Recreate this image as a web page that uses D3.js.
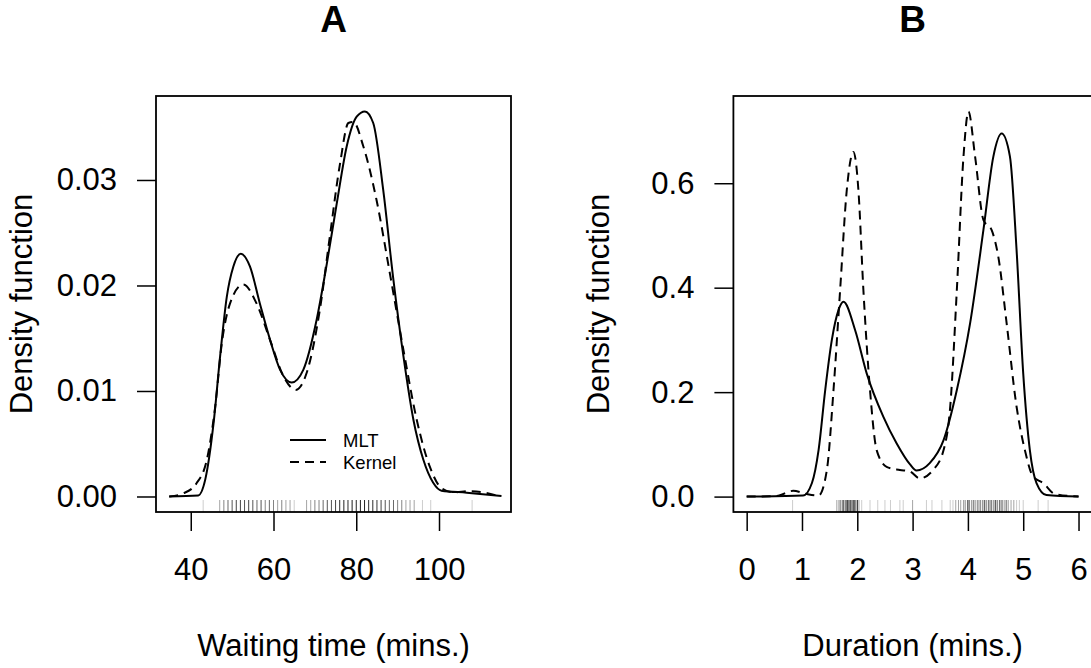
<!DOCTYPE html>
<html>
<head>
<meta charset="utf-8">
<script src="https://cdn.jsdelivr.net/npm/d3@7"></script>
<style>
  body { margin: 0; background: #fff; }
  svg text { font-family: "Liberation Sans", Arial, Helvetica, sans-serif; fill: #000; }
  .axis text { font-size: 31px; }
  .axis line { stroke: #000; stroke-width: 1.5px; }
  .label { font-size: 31px; }
  .title { font-size: 37px; font-weight: bold; }
  .legend text { font-size: 18.5px; }
</style>
</head>
<body>
<div id="chart"></div>
<script>
// Panel A: waiting time
var mltWaitX = [34.8, 41.8, 43.5, 45.5, 47.1, 48.7, 50.3, 52.1, 54.3, 56.7, 59.2, 61.6, 64.4, 67.2, 70.4, 72.9, 75.3, 77.7, 80.1, 82.1, 84.1, 86.5, 88.9, 91.4, 93.8, 96.2, 98.6, 100.6, 106.7, 115.1];
var mltWaitY = [0, 0.0001, 0.0016, 0.0069, 0.0133, 0.0189, 0.0218, 0.0230, 0.0218, 0.0183, 0.0148, 0.0120, 0.0108, 0.0120, 0.0167, 0.0221, 0.0278, 0.0332, 0.0360, 0.0365, 0.0354, 0.0291, 0.0208, 0.0133, 0.0073, 0.0035, 0.0013, 0.00055, 0.00036, 0.00005];
var kerWaitX = [34.8, 38.2, 41.4, 43.9, 45.9, 47.5, 49.5, 52.7, 55.9, 59.2, 62.4, 65.4, 68.0, 71.2, 73.6, 76.1, 78.1, 79.3, 81.7, 84.9, 88.1, 91.4, 94.6, 97.8, 100.6, 103.5, 107.4, 110.7, 114.7];
var kerWaitY = [0, 0.0003, 0.00125, 0.0035, 0.0085, 0.0145, 0.0183, 0.0201, 0.0183, 0.0148, 0.0114, 0.0101, 0.0117, 0.0177, 0.0246, 0.0316, 0.0354, 0.0355, 0.0332, 0.0281, 0.0212, 0.0139, 0.0073, 0.0028, 0.0008, 0.0004, 0.0005, 0.0004, 0];
var waitRugVals = [43, 47, 48, 49, 50, 51, 52, 53, 54, 55, 56, 57, 58, 59, 60, 61, 62, 63, 64, 65, 68, 69, 70, 71, 72, 73, 74, 75, 76, 77, 78, 79, 80, 81, 82, 83, 84, 85, 86, 87, 88, 89, 90, 91, 92, 93, 94, 96, 98, 108];
var waitRugCounts = [1, 2, 3, 4, 5, 6, 6, 5, 6, 5, 4, 5, 3, 4, 3, 2, 3, 2, 2, 1, 2, 2, 3, 3, 4, 5, 5, 6, 8, 9, 8, 10, 9, 10, 9, 8, 8, 7, 6, 5, 4, 4, 3, 3, 2, 2, 2, 1, 1, 1];
var waitTicksX = [40, 60, 80, 100];
var waitTicksY = [0, 0.01, 0.02, 0.03];

// Panel B: duration
var mltDurX = [0, 1.02, 1.18, 1.30, 1.42, 1.54, 1.66, 1.75, 1.96, 2.17, 2.47, 2.71, 2.95, 3.07, 3.31, 3.56, 3.80, 4.04, 4.28, 4.46, 4.61, 4.76, 4.88, 5.00, 5.12, 5.24, 5.42, 6];
var mltDurY = [0, 0.002, 0.026, 0.089, 0.204, 0.300, 0.357, 0.373, 0.319, 0.236, 0.153, 0.102, 0.062, 0.050, 0.064, 0.108, 0.204, 0.332, 0.510, 0.651, 0.695, 0.651, 0.472, 0.236, 0.089, 0.026, 0.003, 0];
var kerDurX = [0, 0.54, 0.84, 1.08, 1.30, 1.45, 1.57, 1.69, 1.81, 1.93, 2.02, 2.11, 2.23, 2.35, 2.53, 2.77, 2.95, 3.13, 3.37, 3.56, 3.68, 3.80, 3.92, 4.01, 4.13, 4.28, 4.43, 4.55, 4.70, 4.88, 5.03, 5.18, 5.36, 5.57, 6];
var kerDurY = [0, 0.001, 0.011, 0.005, 0.002, 0.051, 0.204, 0.396, 0.587, 0.660, 0.587, 0.396, 0.204, 0.089, 0.057, 0.051, 0.048, 0.035, 0.051, 0.089, 0.172, 0.396, 0.651, 0.737, 0.651, 0.530, 0.510, 0.459, 0.332, 0.172, 0.089, 0.038, 0.026, 0.005, 0];
var durRugVals = [0.83, 1.63, 1.67, 1.70, 1.73, 1.75, 1.78, 1.80, 1.82, 1.83, 1.85, 1.87, 1.88, 1.90, 1.92, 1.93, 1.95, 1.97, 2.00, 2.03, 2.08, 2.23, 2.37, 2.50, 2.60, 2.77, 2.83, 3.00, 3.25, 3.35, 3.53, 3.68, 3.73, 3.78, 3.83, 3.87, 3.92, 3.95, 4.00, 4.03, 4.07, 4.10, 4.13, 4.17, 4.20, 4.23, 4.27, 4.30, 4.33, 4.37, 4.40, 4.43, 4.47, 4.50, 4.53, 4.57, 4.60, 4.63, 4.67, 4.70, 4.73, 4.78, 4.83, 4.88, 4.93, 5.00, 5.27, 5.45];
var durRugCounts = [1, 2, 3, 3, 3, 4, 4, 4, 4, 5, 4, 4, 3, 3, 3, 4, 4, 3, 12, 2, 1, 1, 1, 1, 1, 1, 1, 2, 1, 1, 1, 1, 1, 2, 2, 2, 2, 3, 14, 3, 3, 3, 3, 3, 3, 3, 4, 4, 4, 4, 4, 4, 4, 5, 4, 4, 4, 3, 3, 3, 2, 2, 2, 1, 1, 1, 1, 1];
var durTicksX = [0, 1, 2, 3, 4, 5, 6];
var durTicksY = [0, 0.2, 0.4, 0.6];

var legendLabels = ["MLT", "Kernel"];

var svg = d3.select("#chart").append("svg")
    .attr("width", 1091)
    .attr("height", 668);

function drawPanel(opt) {
    var left = opt.left, right = opt.right, top = 96, bottom = 512;

    var x = d3.scaleLinear().domain(opt.xDomain).range([left, right]);
    var y = d3.scaleLinear().domain(opt.yDomain).range([bottom, top]);

    var g = svg.append("g");

    // rug
    g.selectAll(".rug")
        .data(opt.rugVals)
        .enter()
        .append("line")
        .attr("class", "rug")
        .attr("x1", function(d) { return x(d); })
        .attr("x2", function(d) { return x(d); })
        .attr("y1", bottom - 12)
        .attr("y2", bottom)
        .attr("stroke", "#000")
        .attr("stroke-width", 1)
        .attr("stroke-opacity", function(d, i) {
            return 1 - Math.pow(0.8, opt.rugCounts[i]);
        });

    var line = d3.line()
        .x(function(d) { return x(d[0]); })
        .y(function(d) { return y(d[1]); })
        .curve(d3.curveMonotoneX);

    g.append("path")
        .datum(d3.zip(opt.kerX, opt.kerY))
        .attr("d", line)
        .attr("fill", "none")
        .attr("stroke", "#000")
        .attr("stroke-width", 2)
        .attr("stroke-dasharray", "9,6");

    g.append("path")
        .datum(d3.zip(opt.mltX, opt.mltY))
        .attr("d", line)
        .attr("fill", "none")
        .attr("stroke", "#000")
        .attr("stroke-width", 2);

    // box
    g.append("rect")
        .attr("x", left)
        .attr("y", top)
        .attr("width", opt.boxRight - left)
        .attr("height", bottom - top)
        .attr("fill", "none")
        .attr("stroke", "#000")
        .attr("stroke-width", 1.8);

    var xAxis = d3.axisBottom(x)
        .tickValues(opt.xTicks)
        .tickSize(19)
        .tickPadding(27)
        .tickFormat(d3.format("d"));

    var yAxis = d3.axisLeft(y)
        .tickValues(opt.yTicks)
        .tickSize(19)
        .tickPadding(20)
        .tickFormat(d3.format(opt.yFormat));

    g.append("g")
        .attr("class", "axis")
        .attr("transform", "translate(0," + bottom + ")")
        .call(xAxis)
        .call(function(a) { a.select(".domain").remove(); });

    g.append("g")
        .attr("class", "axis")
        .attr("transform", "translate(" + left + ",0)")
        .call(yAxis)
        .call(function(a) { a.select(".domain").remove(); });

    g.selectAll(".axis text").attr("fill", "#000").style("font-family", null);

    g.append("text")
        .attr("class", "title")
        .attr("x", (left + right) / 2)
        .attr("y", 32)
        .attr("text-anchor", "middle")
        .text(opt.title);

    g.append("text")
        .attr("class", "label")
        .attr("x", (left + right) / 2)
        .attr("y", 656)
        .attr("text-anchor", "middle")
        .text(opt.xLabel);

    g.append("text")
        .attr("class", "label")
        .attr("transform", "translate(" + (left - 124) + "," + (top + bottom) / 2 + ") rotate(-90)")
        .attr("text-anchor", "middle")
        .text("Density function");

    if (opt.legend) {
        var leg = g.append("g").attr("class", "legend");
        leg.selectAll("line")
            .data(legendLabels)
            .enter()
            .append("line")
            .attr("x1", 290)
            .attr("x2", 326)
            .attr("y1", function(d, i) { return 440 + i * 22; })
            .attr("y2", function(d, i) { return 440 + i * 22; })
            .attr("stroke", "#000")
            .attr("stroke-width", 2)
            .attr("stroke-dasharray", function(d, i) { return i == 1 ? "9,6" : null; });
        leg.selectAll("text")
            .data(legendLabels)
            .enter()
            .append("text")
            .attr("x", 343)
            .attr("y", function(d, i) { return 447 + i * 22; })
            .text(function(d) { return d; });
    }
}

drawPanel({
    left: 156, right: 511, boxRight: 511,
    xDomain: [31.6, 117.4], yDomain: [-0.00147, 0.03796],
    mltX: mltWaitX, mltY: mltWaitY, kerX: kerWaitX, kerY: kerWaitY,
    rugVals: waitRugVals, rugCounts: waitRugCounts,
    xTicks: waitTicksX, yTicks: waitTicksY, yFormat: ".2f",
    title: "A", xLabel: "Waiting time (mins.)", legend: true
});

drawPanel({
    left: 733.4, right: 1091.8, boxRight: 1094,
    xDomain: [-0.24, 6.24], yDomain: [-0.0295, 0.767],
    mltX: mltDurX, mltY: mltDurY, kerX: kerDurX, kerY: kerDurY,
    rugVals: durRugVals, rugCounts: durRugCounts,
    xTicks: durTicksX, yTicks: durTicksY, yFormat: ".1f",
    title: "B", xLabel: "Duration (mins.)", legend: false
});
</script>
</body>
</html>
